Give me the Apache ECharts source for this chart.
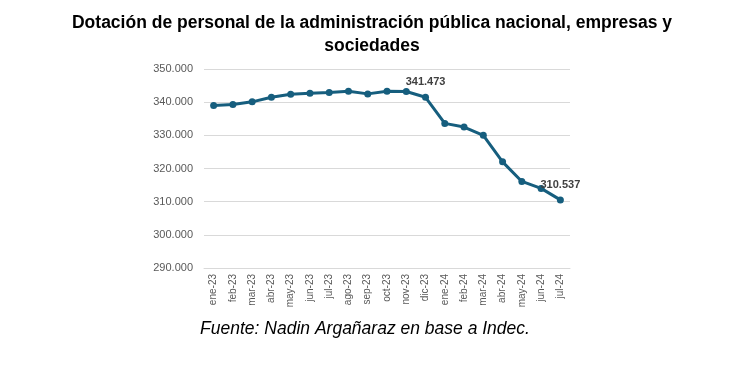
<!DOCTYPE html>
<html><head><meta charset="utf-8">
<script src="https://cdn.jsdelivr.net/npm/echarts@6/dist/echarts.min.js"></script>
<style>html,body{margin:0;padding:0;background:#fff}#c{width:730px;height:365px}</style>
</head><body><div id="c"></div>
<script>
const categories = ["ene-23","feb-23","mar-23","abr-23","may-23","jun-23","jul-23","ago-23","sep-23","oct-23","nov-23","dic-23","ene-24","feb-24","mar-24","abr-24","may-24","jun-24","jul-24"];
const values = [339000,339300,340100,341500,342400,342700,342900,343300,342500,343300,343200,341473,333600,332500,330000,322000,316100,314000,310537];
const labeledIdx = [11, 18];
const yTicks = [290000, 300000, 310000, 320000, 330000, 340000, 350000];

const chart = echarts.init(document.getElementById('c'));
function fmtNum(v){ return String(Math.round(v)).replace(/\B(?=(\d{3})+(?!\d))/g,'.'); }
chart.setOption({
  animation:false,
  title:{
    text:'Dotación de personal de la administración pública nacional, empresas y\nsociedades',
    left:367, textAlign:'center', top:7,
    textStyle:{fontFamily:'Liberation Sans, Arial', fontWeight:'bold', fontSize:17.5, color:'#000', lineHeight:23}
  },
  graphic:[{type:'text', left:'center', top:320, style:{text:'Fuente: Nadin Argañaraz en base a Indec.', font:'italic 17.5px "Liberation Sans", Arial', fill:'#000'}}],
  grid:{left:204, right:160, top:69, bottom:97},
  xAxis:{type:'category', data:categories, boundaryGap:true,
    axisLine:{lineStyle:{color:'#d9d9d9', width:1}}, axisTick:{show:false},
    axisLabel:{rotate:90, fontSize:10, color:'#595959', fontFamily:'Liberation Sans, Arial', margin:6, interval:0}},
  yAxis:{type:'value', min:yTicks[0], max:yTicks[yTicks.length-1], interval:10000,
    axisLine:{show:false}, axisTick:{show:false},
    splitLine:{lineStyle:{color:'#d9d9d9', width:1}},
    axisLabel:{fontSize:11, color:'#595959', fontFamily:'Liberation Sans, Arial', margin:11, formatter:v=>fmtNum(v)}},
  series:[{type:'line', data:values.map((v,i)=>({value:v, label:{show:labeledIdx.includes(i)}})),
    symbol:'circle', symbolSize:7,
    lineStyle:{color:'#165e7e', width:3}, itemStyle:{color:'#165e7e'},
    label:{position:'top', distance:6, fontSize:11, fontWeight:'bold', color:'#404040', fontFamily:'Liberation Sans, Arial', formatter:p=>fmtNum(p.value)}
  }]
});
</script></body></html>
